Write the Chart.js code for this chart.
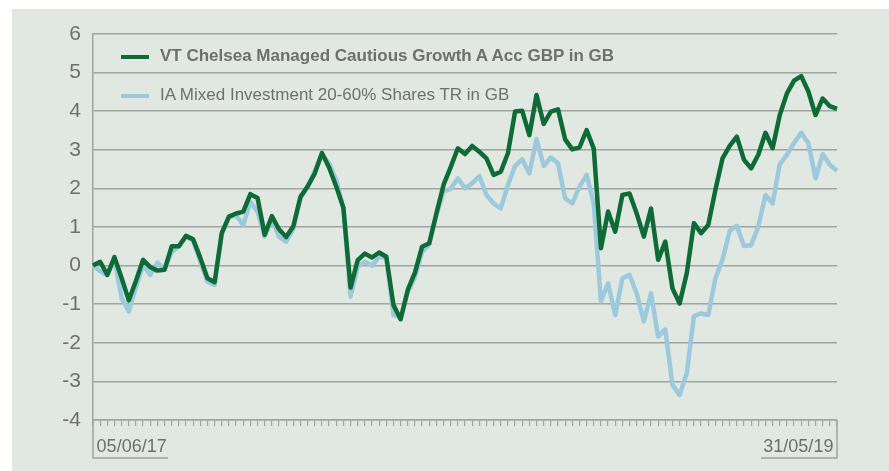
<!DOCTYPE html>
<html>
<head>
<meta charset="utf-8">
<script src="https://cdn.jsdelivr.net/npm/chart.js@4/dist/chart.umd.min.js"></script>
<style>
  html, body { margin: 0; padding: 0; background: #ffffff; }
  #wrap { position: relative; width: 889px; height: 471px; overflow: hidden; }
  #bg { position: absolute; left: 12px; top: 9px; right: 0; bottom: 0; background: #e1e7e1; }
  #chart { position: absolute; left: 0; top: 0; }
  .legend { position: absolute; left: 121px; font-family: "Liberation Sans", Arial, sans-serif; font-size: 17px; color: #6e6f71; white-space: nowrap; }
  .legend span.sw { position: absolute; left: 0; top: 9px; width: 28px; height: 4px; }
  .legend span.tx { position: absolute; left: 39px; top: 0; }
</style>
</head>
<body>
<div id="wrap">
  <div id="bg"></div>
  <canvas id="chart" width="889" height="471"></canvas>
  <div class="legend" style="top:46px"><span class="sw" style="background:#0e6b36"></span><span class="tx" style="font-weight:bold">VT Chelsea Managed Cautious Growth A Acc GBP in GB</span></div>
  <div class="legend" style="top:85px"><span class="sw" style="background:#9ccadc"></span><span class="tx">IA Mixed Investment 20-60% Shares TR in GB</span></div>
</div>
<script>
// weekly cumulative performance (%)
const fundName = 'VT Chelsea Managed Cautious Growth A Acc GBP in GB';
const sectorName = 'IA Mixed Investment 20-60% Shares TR in GB';

const fundValues = [
  0.0, 0.1, -0.24, 0.22, -0.32, -0.9, -0.4, 0.15, -0.04, -0.13,
  -0.11, 0.5, 0.5, 0.77, 0.68, 0.2, -0.33, -0.43, 0.85, 1.27,
  1.35, 1.4, 1.85, 1.75, 0.8, 1.28, 0.94, 0.74, 1.02, 1.78,
  2.05, 2.39, 2.92, 2.54, 2.05, 1.5, -0.57, 0.14, 0.31, 0.21,
  0.34, 0.23, -1.02, -1.39, -0.63, -0.18, 0.49, 0.58, 1.35, 2.09,
  2.55, 3.04, 2.89, 3.1, 2.95, 2.78, 2.35, 2.43, 2.91, 3.99,
  4.01, 3.38, 4.42, 3.67, 3.99, 4.05, 3.27, 3.01, 3.06, 3.51,
  3.03, 0.45, 1.4, 0.88, 1.83, 1.87, 1.35, 0.75, 1.48, 0.15,
  0.62, -0.59, -0.98, -0.2, 1.1, 0.84, 1.05, 1.96, 2.78, 3.1,
  3.34, 2.74, 2.52, 2.87, 3.44, 3.04, 3.9, 4.46, 4.79, 4.91,
  4.51, 3.9, 4.33, 4.13, 4.06
];

const sectorValues = [
  0.0, -0.15, -0.25, 0.18, -0.84, -1.19, -0.55, 0.0, -0.24, 0.08,
  -0.1, 0.35, 0.5, 0.75, 0.65, 0.1, -0.42, -0.5, 0.8, 1.25,
  1.3, 1.05, 1.65, 1.4, 0.75, 1.2, 0.75, 0.62, 0.95, 1.75,
  2.05, 2.45, 2.87, 2.65, 2.22, 1.5, -0.8, -0.03, 0.1, 0.0,
  0.23, 0.2, -1.28, -1.35, -0.7, -0.3, 0.35, 0.55, 1.3, 1.92,
  1.99, 2.26, 2.0, 2.13, 2.32, 1.83, 1.61, 1.48, 2.09, 2.58,
  2.75, 2.39, 3.28, 2.58, 2.8, 2.65, 1.74, 1.61, 2.04, 2.35,
  1.61, -0.93, -0.46, -1.28, -0.33, -0.24, -0.72, -1.45, -0.72, -1.84,
  -1.65, -3.09, -3.35, -2.79, -1.31, -1.24, -1.28, -0.33, 0.16, 0.9,
  1.03, 0.51, 0.53, 1.01, 1.83, 1.61, 2.63, 2.87, 3.18, 3.44,
  3.17, 2.26, 2.89, 2.61, 2.46
];

const firstLabel = '05/06/17';
const lastLabel = '31/05/19';

// one category per week, only the ends get a label
const categories = fundValues.map((v, i) => i === 0 ? firstLabel : (i === fundValues.length - 1 ? lastLabel : ''));

const textGrey = '#6e6f71';
const gridGrey = '#a2a3a3';

// the little boxes round the two date labels
const labelBoxes = {
  id: 'labelBoxes',
  afterDraw(chart) {
    const ctx = chart.ctx;
    const a = chart.chartArea;
    ctx.save();
    ctx.strokeStyle = gridGrey;
    ctx.lineWidth = 1.5;
    ctx.beginPath();
    ctx.moveTo(a.left, a.bottom);
    ctx.lineTo(a.left, 458);
    ctx.lineTo(a.left + 75, 458);
    ctx.moveTo(a.right, a.bottom);
    ctx.lineTo(a.right, 458);
    ctx.lineTo(a.right - 76, 458);
    ctx.stroke();
    ctx.restore();
  }
};

const ctx = document.getElementById('chart').getContext('2d');

new Chart(ctx, {
  type: 'line',
  data: {
    labels: categories,
    datasets: [
      {
        label: fundName,
        data: fundValues,
        borderColor: '#0e6b36',
        borderWidth: 4.5,
        pointRadius: 0,
        tension: 0,
        borderJoinStyle: 'round',
        order: 1
      },
      {
        label: sectorName,
        data: sectorValues,
        borderColor: '#9ccadc',
        borderWidth: 4.5,
        pointRadius: 0,
        tension: 0,
        borderJoinStyle: 'round',
        order: 2
      }
    ]
  },
  options: {
    responsive: false,
    animation: false,
    layout: {
      padding: { left: 0, top: 34, right: 52, bottom: 0 }
    },
    plugins: {
      legend: { display: false },
      tooltip: { enabled: false }
    },
    scales: {
      x: {
        afterFit: scale => { scale.height = 51; },
        grid: {
          drawOnChartArea: false,
          drawTicks: true,
          tickLength: 6,
          color: gridGrey,
          lineWidth: 1.2
        },
        border: { display: true, color: gridGrey, width: 1.5 },
        ticks: {
          autoSkip: false,
          maxRotation: 0,
          align: 'inner',
          padding: 10,
          color: textGrey,
          font: { family: 'Liberation Sans', size: 18 },
          callback: function (value, index) {
            const lab = this.getLabelForValue(value);
            if (index === 0) return '\u2009' + lab;
            if (lab) return lab + '\u2009';
            return lab;
          }
        }
      },
      y: {
        min: -4,
        max: 6,
        afterFit: scale => { scale.width = 93; },
        grid: {
          drawTicks: false,
          color: gridGrey,
          lineWidth: 1.5
        },
        border: { display: true, color: gridGrey, width: 1.5 },
        ticks: {
          stepSize: 1,
          padding: 12,
          color: textGrey,
          font: { family: 'Liberation Sans', size: 21 }
        }
      }
    }
  },
  plugins: [labelBoxes]
});
</script>
</body>
</html>
